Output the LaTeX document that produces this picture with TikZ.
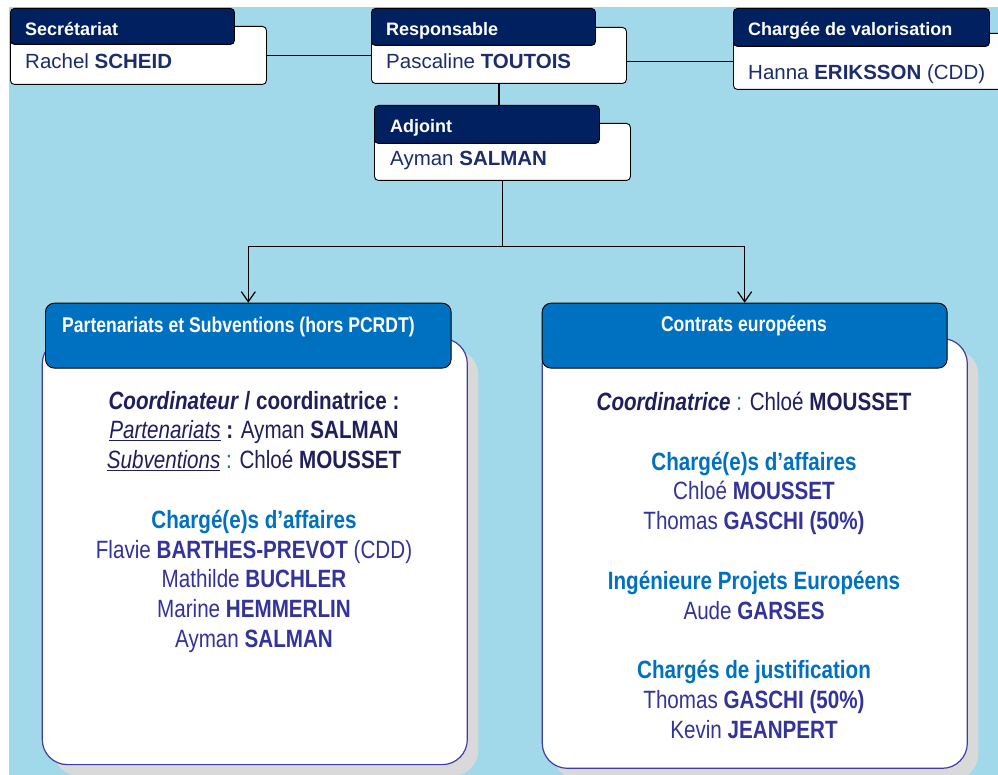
\documentclass[tikz,border=0pt]{standalone}
\usepackage{fontspec}
\setmainfont{Liberation Sans}
\newfontfamily\narrowsf{Liberation Sans}[FakeStretch=0.825]
\usetikzlibrary{arrows.meta,shadows}

\definecolor{skyback}{HTML}{A1D8EA}
\definecolor{navyhead}{HTML}{002060}
\definecolor{navytext}{HTML}{1C2C6C}
\definecolor{panelblue}{HTML}{0070C0}
\definecolor{panelrim}{HTML}{3F3F9F}
\definecolor{coordtext}{HTML}{1F1F5C}
\definecolor{listtext}{HTML}{333399}
\definecolor{shadowgray}{HTML}{D9D9D9}

\newcommand{\sectitle}[1]{\textcolor{panelblue}{\bfseries #1}}

\tikzset{
  topbody/.style={draw=black, fill=white, line width=0.9pt, rounded corners=4pt,
    inner sep=0pt, anchor=north west},
  tophead/.style={topbody, fill=navyhead},
  headlabel/.style={anchor=base west, inner sep=0pt, text=white,
    font=\bfseries\fontsize{18}{20}\selectfont},
  namelabel/.style={anchor=base west, inner sep=0pt, text=navytext,
    font=\fontsize{20.5}{24}\selectfont},
  panelbody/.style={draw=panelrim, fill=white, line width=1.2pt, rounded corners=25pt,
    inner sep=0pt, anchor=north west,
    drop shadow={shadow xshift=11pt, shadow yshift=-11pt, fill=shadowgray, opacity=1}},
  panelhead/.style={draw=black, fill=panelblue, line width=0.9pt, rounded corners=9pt,
    inner sep=0pt, anchor=north west},
  paneltitle/.style={inner sep=0pt, text=white,
    font=\narrowsf\bfseries\fontsize{21.3}{24}\selectfont},
  paneltext/.style={anchor=base, inner sep=0pt, text=listtext,
    font=\narrowsf\fontsize{25}{28}\selectfont},
  link/.style={line width=1.2pt},
  branch/.style={link, -{Straight Barb[length=10pt, width=14pt]}},
}

\begin{document}
\begin{tikzpicture}[x=1pt, y=-1pt]
  \useasboundingbox (0,0) rectangle (998,775);
  \fill[white] (0,0) rectangle (998,775);
  \fill[skyback] (9,7) rectangle (998,775);

  % top row
  \node[topbody, minimum width=256, minimum height=58] (sec) at (10,26) {};
  \node[tophead, minimum width=224, minimum height=36] (sechead) at (10,8) {};
  \node[headlabel] (sectitle) at (25,36) {Secrétariat};
  \node[namelabel] (secname) at (25,68.3) {Rachel \textbf{SCHEID}};

  \node[topbody, minimum width=255, minimum height=56] (resp) at (371,27) {};
  \node[tophead, minimum width=224, minimum height=37] (resphead) at (371,8) {};
  \node[headlabel] (resptitle) at (386,36) {Responsable};
  \node[namelabel] (respname) at (386,68.3) {Pascaline \textbf{TOUTOIS}};

  \node[topbody, minimum width=290, minimum height=56] (val) at (733,33) {};
  \node[tophead, minimum width=256, minimum height=38] (valhead) at (733,8) {};
  \node[headlabel] (valtitle) at (748,36) {Chargée de valorisation};
  \node[namelabel] (valname) at (748,80) {Hanna \textbf{ERIKSSON} (CDD)};

  \node[topbody, minimum width=256, minimum height=57] (adj) at (374,123) {};
  \node[tophead, minimum width=225, minimum height=38] (adjhead) at (374,105) {};
  \node[headlabel] (adjtitle) at (390,132.7) {Adjoint};
  \node[namelabel] (adjname) at (390,165.7) {Ayman \textbf{SALMAN}};

  \draw[link] (sec.east) -- (resp.west);
  \draw[link] (resp.east |- val.west) -- (val.west);
  \draw[link] (resp.south) -- (resp.south |- adjhead.north);

  % the two teams
  \node[panelbody, minimum width=425, minimum height=426] (part) at (41.7,338) {};
  \node[panelhead, minimum width=405.7, minimum height=65] (parthead) at (45,302.7) {};
  \node[paneltitle, anchor=base west] (parttitle) at (62,332.7)
    {Partenariats et Subventions (hors PCRDT)};

  \node[panelbody, minimum width=425, minimum height=429.7] (cont) at (541.7,338) {};
  \node[panelhead, minimum width=405, minimum height=65] (conthead) at (541.7,302.7) {};
  \node[paneltitle, anchor=base] (conttitle) at (744,331.7) {Contrats européens};

  \draw[link] (adj.south) -- ++(0,66) coordinate (split);
  \draw[branch] (split) -| (parthead.north);
  \draw[branch] (split) -| (conthead.north);

  \foreach \row/\txt in {
      0/{\color{coordtext}\textbf{\textit{Coordinateur}} \textbf{/ coordinatrice :}},
      1/{\color{coordtext}\underline{\textit{Partenariats}} \textbf{:} Ayman \textbf{SALMAN}},
      2/{\color{coordtext}\underline{\textit{Subventions}} \textcolor{panelblue}{:} Chloé \textbf{MOUSSET}},
      4/{\sectitle{Chargé(e)s d’affaires}},
      5/{Flavie \textbf{BARTHES-PREVOT} (CDD)},
      6/{Mathilde \textbf{BUCHLER}},
      7/{Marine \textbf{HEMMERLIN}},
      8/{Ayman \textbf{SALMAN}}}
    \node[paneltext] (part\row) at (254,409+29.8*\row) {\txt};

  \foreach \row/\txt in {
      0/{\color{coordtext}\textbf{\textit{Coordinatrice}} \textcolor{panelblue}{:} Chloé \textbf{MOUSSET}},
      2/{\sectitle{Chargé(e)s d’affaires}},
      3/{Chloé \textbf{MOUSSET}},
      4/{Thomas \textbf{GASCHI (50\%)}},
      6/{\sectitle{Ingénieure Projets Européens}},
      7/{Aude \textbf{GARSES}},
      9/{\sectitle{Chargés de justification}},
      10/{Thomas \textbf{GASCHI (50\%)}},
      11/{Kevin \textbf{JEANPERT}}}
    \node[paneltext] (cont\row) at (754,410.5+29.8*\row) {\txt};
\end{tikzpicture}
\end{document}
